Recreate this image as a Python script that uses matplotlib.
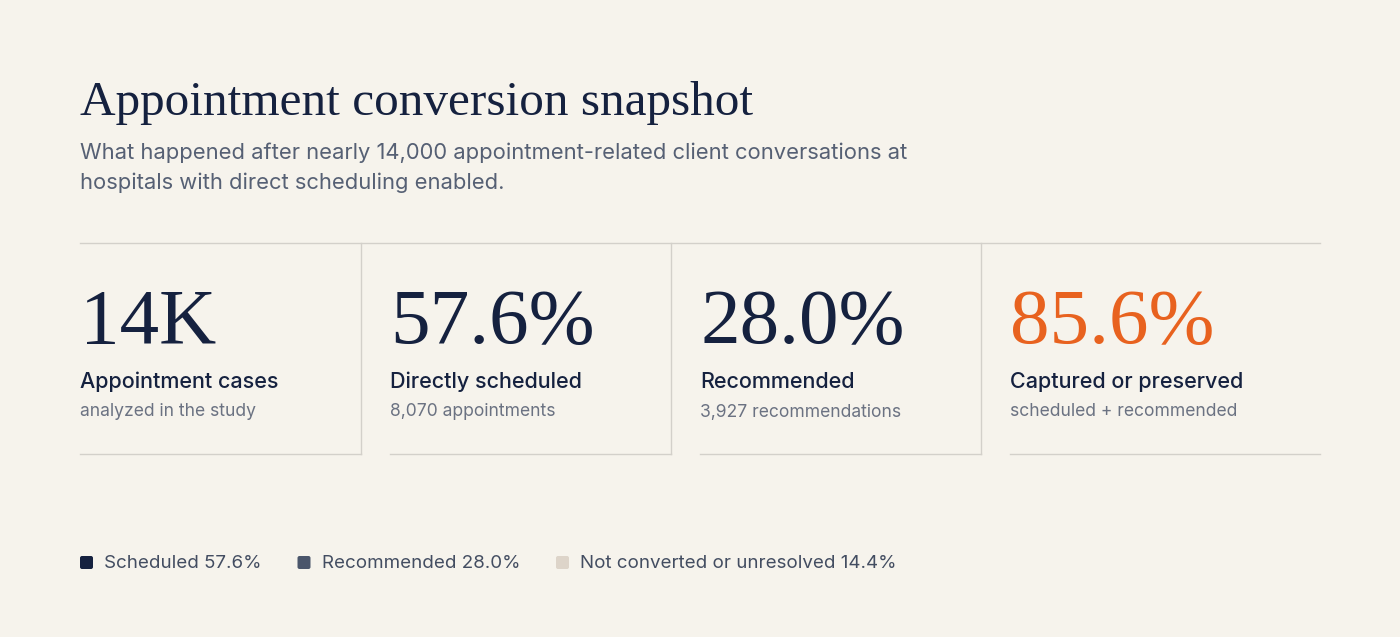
import matplotlib
matplotlib.use("Agg")
import matplotlib.pyplot as plt
from matplotlib.patches import FancyBboxPatch

# card data
values = ["14K", "57.6%", "28.0%", "85.6%"]
labels = ["Appointment cases", "Directly scheduled", "Recommended", "Captured or preserved"]
notes = ["analyzed in the study", "8,070 appointments", "3,927 recommendations", "scheduled + recommended"]
highlight = [False, False, False, True]

# legend data
legend_names = ["Scheduled", "Recommended", "Not converted or unresolved"]
legend_pcts = [57.6, 28.0, 14.4]
legend_colors = ["#15213f", "#4b566b", "#ddd4c9"]

title = "Appointment conversion snapshot"
subtitle = ("What happened after nearly 14,000 appointment-related client conversations at\n"
            "hospitals with direct scheduling enabled.")

BG = "#f6f3ec"
NAVY = "#15213f"
ORANGE = "#e8621f"
GRAY = "#6b7282"
LINE = "#d3d0ca"
SERIF = ["Liberation Serif", "DejaVu Serif"]
SANS = ["Inter", "DejaVu Sans"]

fig = plt.figure(figsize=(14, 6.37), dpi=100, facecolor=BG)
ax = fig.add_axes([0, 0, 1, 1])
ax.set_xlim(0, 1400)
ax.set_ylim(637, 0)
ax.axis("off")
ax.set_facecolor(BG)

ax.text(80, 103, title, family=SERIF, fontsize=35.5, color=NAVY, va="center", ha="left")
ax.text(80, 168, subtitle, family=SANS, fontsize=15.8, color="#566074", va="center", ha="left",
        linespacing=1.6)

# card grid
left, right = 80, 1320
top, bottom = 243, 454
card_w, step = 281, 310
ax.plot([left, right], [top, top], color=LINE, lw=1)
for i in range(len(values)):
    x0 = left + i * step
    last = i == len(values) - 1
    x1 = right if last else x0 + card_w
    ax.plot([x0, x1], [bottom, bottom], color=LINE, lw=1)
    if not last:
        ax.plot([x1, x1], [top, bottom], color=LINE, lw=1)
    col = ORANGE if highlight[i] else NAVY
    ax.text(x0, 343, values[i], family=SERIF, fontsize=57, color=col, va="baseline", ha="left")
    ax.text(x0, 382, labels[i], family=SANS, fontsize=15.5, color=NAVY, va="center", ha="left",
            fontweight="medium")
    ax.text(x0, 412, notes[i], family=SANS, fontsize=12.6, color=GRAY, va="center", ha="left")

# legend
fig.canvas.draw()
renderer = fig.canvas.get_renderer()
inv = ax.transData.inverted()
lx = 80
for name, pct, c in zip(legend_names, legend_pcts, legend_colors):
    ax.add_patch(FancyBboxPatch((lx, 556), 13, 13, boxstyle="round,pad=0,rounding_size=2",
                                fc=c, ec="none"))
    t = ax.text(lx + 24, 563, f"{name} {pct:.1f}%", family=SANS, fontsize=13.5,
                color="#434d61", va="center", ha="left")
    bb = t.get_window_extent(renderer)
    x_end = inv.transform((bb.x1, bb.y1))[0]
    lx = x_end + 36

fig.savefig("out.png", dpi=100, facecolor=BG)
